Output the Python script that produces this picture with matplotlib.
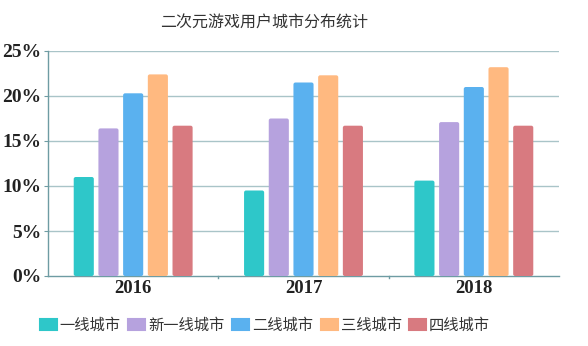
import matplotlib
matplotlib.use("Agg")
import matplotlib.pyplot as plt
from matplotlib.patches import FancyBboxPatch, Patch
import numpy as np

plt.rcParams['font.family'] = ['Noto Sans CJK SC', 'DejaVu Sans']

title = "二次元游戏用户城市分布统计"
years = ["2016", "2017", "2018"]
series_names = ["一线城市", "新一线城市", "二线城市", "三线城市", "四线城市"]
tier1 = [11.0, 9.5, 10.6]
new_tier1 = [16.4, 17.5, 17.1]
tier2 = [20.3, 21.5, 21.0]
tier3 = [22.4, 22.3, 23.2]
tier4 = [16.7, 16.7, 16.7]
series_values = [tier1, new_tier1, tier2, tier3, tier4]
colors = ["#2EC7C9", "#B6A2DE", "#5AB1EF", "#FFB980", "#D87A80"]
y_ticks = [0, 5, 10, 15, 20, 25]
y_tick_labels = ["0%", "5%", "10%", "15%", "20%", "25%"]

W, H = 588, 346
fig = plt.figure(figsize=(W / 100, H / 100), dpi=100)
ax_left, ax_right, ax_top, ax_bottom = 48, 559, 51, 276
ax = fig.add_axes([ax_left / W, (H - ax_bottom) / H,
                   (ax_right - ax_left) / W, (ax_bottom - ax_top) / H])

ax.set_xlim(-0.5, len(years) - 0.5)
ax.set_ylim(0, 25)

grid_color = "#A9C4C8"
for t in y_ticks[1:]:
    ax.axhline(t, color=grid_color, lw=1.0, zorder=1)

pitch = 0.145
width = 0.118
x = np.arange(len(years))
px_per_x = (ax_right - ax_left) / len(years)
px_per_y = (ax_bottom - ax_top) / 25
radius_px = 2.0
for i, (vals, c) in enumerate(zip(series_values, colors)):
    offs = (i - 2) * pitch
    for xi, v in zip(x, vals):
        patch = FancyBboxPatch((xi + offs - width / 2, 0), width, v,
                               boxstyle=f"round,pad=0,rounding_size={radius_px / px_per_x}",
                               mutation_aspect=px_per_x / px_per_y,
                               facecolor=c, edgecolor="none", zorder=3)
        ax.add_patch(patch)

for s in ["top", "right"]:
    ax.spines[s].set_visible(False)
ax.spines["left"].set_color("#6E9CA3")
ax.spines["bottom"].set_color("#6E9CA3")
ax.spines["left"].set_linewidth(1.0)
ax.spines["bottom"].set_linewidth(1.0)

ax.set_yticks(y_ticks)
ax.set_yticklabels(y_tick_labels, family="Liberation Serif", fontweight="bold",
                   fontsize=14, color="#222222")
ax.tick_params(axis="y", length=3, color="#6E9CA3", pad=2)

ax.set_xticks(x)
ax.set_xticklabels(years, family="Liberation Serif", fontweight="bold",
                   fontsize=13.5, color="#222222")
ax.tick_params(axis="x", length=0, pad=3)
for b in [0.5, 1.5]:
    ax.plot([b, b], [0, -0.2], color="#6E9CA3", lw=1, clip_on=False, zorder=2)

fig.text(264 / W, 1 - 23 / H, title, ha="center", va="center",
         fontsize=11.5, color="#333333")

handles = [Patch(facecolor=c, edgecolor=c, joinstyle="round", lw=1.5) for c in colors]
leg = fig.legend(handles, series_names, loc="center", bbox_to_anchor=(265 / W, 1 - 325 / H),
                 ncol=5, frameon=False, fontsize=11, handlelength=1.1, handleheight=0.7,
                 handletextpad=0.2, columnspacing=0.5, labelcolor="#333333")

fig.savefig("out.png", dpi=100, facecolor="white")
